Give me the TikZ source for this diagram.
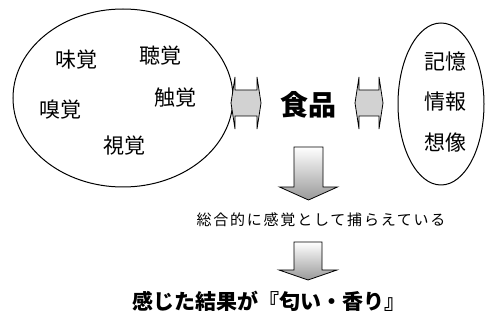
\documentclass[tikz,border=0pt]{standalone}
\usepackage{fontspec}
\newfontfamily\jp{Noto Sans CJK JP}
\usetikzlibrary{shapes.geometric}
\begin{document}
\begin{tikzpicture}[x=1pt,y=-1pt,
  ell/.style={draw, ellipse, line width=1pt, inner sep=0pt},
  lbl/.style={font=\jp\fontsize{21}{21}\selectfont, inner sep=0pt},
  harrow/.style={draw, line width=0.8pt, fill=gray!35},
  varrow/.style={draw, line width=0.8pt, top color=white, middle color=gray!25, bottom color=gray!80}]
\useasboundingbox (0,0) rectangle (485,320);
% ellipses
\node[ell, minimum width=220pt, minimum height=178pt] (senses) at (123,98) {};
\node[ell, minimum width=86pt, minimum height=162pt] (mind) at (441,104) {};
% sense labels
\node[lbl] (mikaku) at (77,60) {味覚};
\node[lbl] (choukaku) at (160,56) {聴覚};
\node[lbl] (kyuukaku) at (60,110) {嗅覚};
\node[lbl] (shokkaku) at (175,98) {触覚};
\node[lbl] (shikaku) at (124,146) {視覚};
% mind labels
\node[lbl] (kioku) at (445,62) {記憶};
\node[lbl] (jouhou) at (445,102) {情報};
\node[lbl] (souzou) at (445,143) {想像};
% food
\node[inner sep=0pt, font=\jp\bfseries\fontsize{28}{28}\selectfont] (food) at (308,105) {食品};
% double arrows
\draw[harrow, shift={(246,103)}] (-15,0) -- (-11,-26) -- (-11,-13) -- (11,-13) -- (11,-26) -- (15,0) -- (11,26) -- (11,13) -- (-11,13) -- (-11,26) -- cycle;
\draw[harrow, shift={(369,103)}] (-14,0) -- (-10,-26) -- (-10,-13) -- (10,-13) -- (10,-26) -- (14,0) -- (10,26) -- (10,13) -- (-10,13) -- (-10,26) -- cycle;
% down arrows
\draw[varrow, shift={(308.5,147)}] (-14.5,0) -- (14.5,0) -- (14.5,40) -- (29,40) -- (0,53) -- (-29,40) -- (-14.5,40) -- cycle;
\draw[varrow, shift={(308,242)}] (-14,0) -- (14,0) -- (14,28) -- (29,28) -- (0,38) -- (-29,28) -- (-14,28) -- cycle;
% texts
\node[inner sep=0pt, font=\jp\fontsize{15}{15}\selectfont\addfontfeature{LetterSpace=12}] (middle) at (321,220) {総合的に感覚として捕らえている};
\node[inner sep=0pt, font=\jp\bfseries\fontsize{21}{21}\selectfont] (result) at (269,301) {感じた結果が『匂い・香り』};
\end{tikzpicture}
\end{document}
